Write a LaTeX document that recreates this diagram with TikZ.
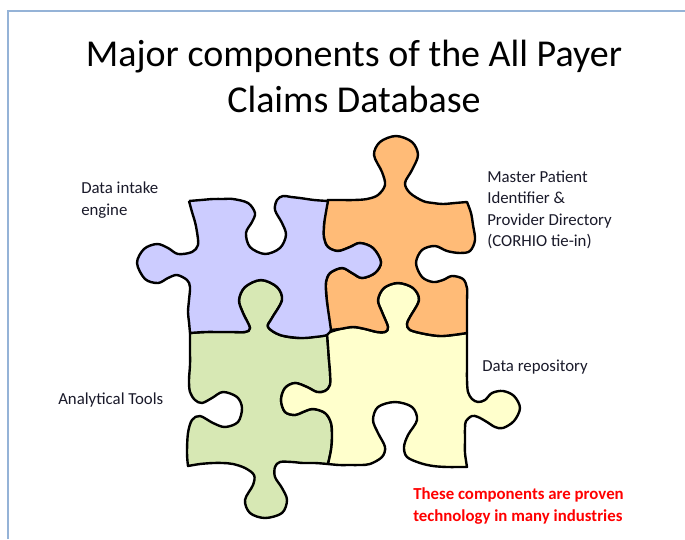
\documentclass[tikz,border=0pt]{standalone}
\usepackage{fontspec}
\setmainfont{Carlito}
\definecolor{framec}{HTML}{95B3D7}
\definecolor{pblue}{HTML}{CCCCFF}
\definecolor{porange}{HTML}{FFBB77}
\definecolor{pgreen}{HTML}{D7E8B4}
\definecolor{pyellow}{HTML}{FFFFCC}
\definecolor{labelc}{HTML}{1A1A2A}
\tikzset{
  piece/.style={draw=black,line width=1.8pt,line join=round},
  lbl/.style={anchor=west,align=left,inner sep=0pt,text=labelc,font=\fontsize{12.6}{16}\selectfont},
  ttl/.style={align=center,inner sep=0pt,anchor=base,font=\fontsize{28.5}{34.5}\selectfont},
  redl/.style={anchor=west,align=left,inner sep=0pt,text=red,font=\bfseries\fontsize{12.6}{16.5}\selectfont},
  pts/.style={smooth,tension=0.55}
}
\begin{document}
\begin{tikzpicture}[x=0.75pt,y=-0.75pt]
\useasboundingbox (0,0) rectangle (685,539);
\fill[white] (0,0) rectangle (685,539);
\draw[framec,line width=1pt] (8,539) -- (8,11) -- (685,11);
% green
\draw[piece,fill=pgreen] plot[pts] coordinates {(190,333) (190,350) (190,365) (189,380) (190,392) (195,400) (202,403) (212,398) (223,392) (237,397) (242,408) (238,422) (225,427) (213,423) (200,416) (192,420) (188,433) (187,453) (188,466)}
 -- plot[pts] coordinates {(188,466) (200,464) (213,463) (223,463) (233,464) (245,468) (254,475) (253,485) (245,500) (250,513) (265,518) (282,513) (287,500) (282,488) (275,477) (275,467) (280,462) (292,462) (303,463) (315,463) (328,464)}
 -- plot[pts] coordinates {(328,464) (331,450) (332,437) (331,423) (325,413) (313,409) (303,412) (295,415) (285,412) (281,400) (285,388) (295,383) (307,387) (317,392) (325,391) (330,385) (330,372) (329,360) (328,346) (327,333)}
 -- plot[pts] coordinates {(327,335) (300,338) (280,335) (268,327) (272,318) (282,300) (277,287) (261,280) (245,287) (239,300) (243,313) (250,328) (245,332) (233,332) (220,332) (205,332) (190,333)};
% yellow
\draw[piece,fill=pyellow] plot[pts] coordinates {(327,333) (340,329) (353,327) (365,329) (377,332) (385,332) (388,327) (382,312) (378,300) (384,288) (398,283) (413,288) (419,300) (410,317) (407,324) (410,330) (425,334) (440,336) (453,335) (467,333)}
 -- plot[pts] coordinates {(467,333) (467,350) (467,365) (467,380) (468,392) (472,399) (478,402) (485,400) (492,393) (503,391) (514,396) (520,408) (514,421) (503,428) (495,427) (487,422) (478,417) (472,416) (466,421) (465,428) (465,440) (465,453) (467,467)}
 -- plot[pts] coordinates {(467,467) (457,467) (447,467) (433,466) (420,463) (407,457) (404,447) (408,435) (417,420) (412,407) (395,402) (378,407) (373,420) (378,433) (385,447) (382,457) (370,464) (360,465) (350,465) (339,465) (328,464)}
 -- plot[pts] coordinates {(328,464) (331,450) (332,437) (331,423) (325,413) (313,409) (303,412) (295,415) (285,412) (281,400) (285,388) (295,383) (307,387) (317,392) (325,391) (330,385) (330,372) (329,360) (328,346) (327,333)};
% orange
\draw[piece,fill=porange] plot[pts] coordinates {(327,200) (340,200) (354,200) (367,199) (378,195) (385,185) (382,172) (374,155) (380,142) (396,136) (412,142) (418,155) (412,170) (405,183) (410,193) (423,201) (433,203) (443,204) (455,203) (467,202)}
 -- plot[pts] coordinates {(467,202) (471,213) (473,225) (475,240) (470,251) (460,253) (447,251) (435,246) (422,250) (416,263) (422,277) (433,282) (443,280) (452,276) (463,279) (467,288) (467,300) (467,312) (467,323) (467,333)}
 -- plot[pts] coordinates {(467,333) (453,335) (440,336) (425,334) (410,330) (407,324) (410,317) (419,300) (413,288) (398,283) (384,288) (378,300) (382,312) (388,327) (385,332) (377,332) (365,329) (353,327) (340,329) (330,330)}
 -- plot[pts] coordinates {(330,330) (328,316) (327,302) (326,291) (326,282) (330,273) (342,268) (352,273) (362,278) (375,273) (381,262) (373,248) (360,243) (350,247) (338,251) (328,247) (324,238) (324,225) (325,212) (327,200)};
% blue
\draw[piece,fill=pblue] plot[pts] coordinates {(189,201) (201,200) (213,199) (223,199) (233,199) (248,203) (255,213) (252,222) (246,233) (250,247) (265,254) (280,248) (286,235) (282,223) (275,210) (277,200) (283,196) (291,197) (300,198) (314,200) (328,201)}
 -- plot[pts] coordinates {(328,201) (326,212) (324,225) (324,238) (328,247) (338,251) (350,247) (360,243) (373,248) (381,262) (375,273) (362,278) (352,273) (342,268) (330,273) (326,282) (326,291) (327,302) (329,316) (331,330)}
 -- plot[pts] coordinates {(331,330) (327,335) (315,337) (300,338) (280,335) (268,327) (272,318) (282,300) (277,287) (261,280) (245,287) (239,300) (243,313) (250,328) (245,332) (233,332) (220,332) (205,332) (190,333)}
 -- plot[pts] coordinates {(190,333) (189,322) (188,312) (189,300) (190,287) (187,280) (177,275) (168,278) (158,283) (145,279) (137,263) (144,249) (157,244) (168,248) (178,254) (192,252) (198,245) (197,232) (195,222) (192,212) (189,201)};
% texts
\node[ttl] (title) at (354,112) {Major components of the All Payer\\Claims Database};
\node[lbl] (intake) at (81,200) {Data intake\\engine};
\node[lbl] (mpi) at (487,210) {Master Patient\\Identifier \&\\Provider Directory\\(CORHIO tie-in)};
\node[lbl] (tools) at (58,400) {Analytical Tools};
\node[lbl] (repo) at (482,367) {Data repository};
\node[redl] (note) at (413,506) {These components are proven\\technology in many industries};
\end{tikzpicture}
\end{document}
